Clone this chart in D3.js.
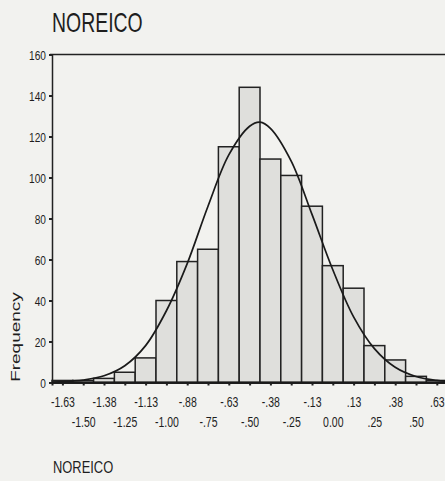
<!DOCTYPE html>
<html>
<head>
<meta charset="utf-8">
<script src="https://cdn.jsdelivr.net/npm/d3@7/dist/d3.min.js"></script>
<style>
  html, body { margin: 0; padding: 0; background: #f2f2ef; }
  svg { display: block; }
  text { font-family: "Liberation Sans", Arial, sans-serif; fill: #1e1e1e; }
</style>
</head>
<body>
<svg id="chart" width="445" height="481"></svg>
<script>
// ---- data ----
const chartTitle = "NOREICO";
const xTitle = "NOREICO";
const yTitle = "Frequency";
const binCenters = [-1.625, -1.5, -1.375, -1.25, -1.125, -1.0, -0.875, -0.75, -0.625, -0.5,
                    -0.375, -0.25, -0.125, 0.0, 0.125, 0.25, 0.375, 0.5, 0.625];
const tickLabels = ["-1.63", "-1.50", "-1.38", "-1.25", "-1.13", "-1.00", "-.88", "-.75", "-.63", "-.50",
                    "-.38", "-.25", "-.13", "0.00", ".13", ".25", ".38", ".50", ".63"];
const counts = [1, 1, 2, 5, 12, 40, 59, 65, 115, 144, 109, 101, 86, 57, 46, 18, 11, 3, 1];
const binWidth = 0.125;
const yTicks = [0, 20, 40, 60, 80, 100, 120, 140, 160];
// normal curve
const curveX = [-1.6875, -1.5625, -1.5, -1.375, -1.25, -1.125, -1.0, -0.875, -0.75, -0.625, -0.5,
                -0.4375, -0.375, -0.25, -0.125, 0.0, 0.125, 0.25, 0.375, 0.5, 0.625, 0.6875];
const curveY = [0.2, 0.7, 1.2, 3.3, 8.2, 18, 35, 58, 86, 111, 125,
                127, 124, 108, 82, 55, 32, 16.5, 7.4, 2.9, 1.0, 0.6];

// ---- layout ----
const SX = 0.72; // horizontal squeeze seen in the scanned text
const svg = d3.select("#chart");
const mLeft = 52, mRight = 447.2, mTop = 54.5, mBottom = 382.5;

const x = d3.scaleLinear().domain([-1.6875, 0.6875]).range([mLeft, mRight]);
const y = d3.scaleLinear().domain([0, 160]).range([mBottom, mTop]);

// title
svg.append("text")
  .attr("transform", `translate(52,31.5) scale(${SX},1)`)
  .style("font-size", "27px")
  .text(chartTitle);

// bars
svg.append("g").selectAll("rect")
  .data(binCenters.map((c, i) => ({c, n: counts[i]})))
  .join("rect")
  .attr("x", d => x(d.c - binWidth / 2))
  .attr("width", d => x(d.c + binWidth / 2) - x(d.c - binWidth / 2))
  .attr("y", d => y(d.n))
  .attr("height", d => y(0) - y(d.n))
  .attr("fill", "#dfdfdc")
  .attr("stroke", "#222")
  .attr("stroke-width", 1.5);

// frame top
svg.append("line")
  .attr("x1", mLeft - 2).attr("x2", 445).attr("y1", mTop).attr("y2", mTop)
  .attr("stroke", "#222").attr("stroke-width", 1.7);

// normal curve
const line = d3.line()
  .x((d, i) => x(curveX[i]))
  .y(d => y(d))
  .curve(d3.curveCatmullRom.alpha(0.5));
svg.append("path")
  .datum(curveY)
  .attr("d", line)
  .attr("fill", "none")
  .attr("stroke", "#1a1a1a")
  .attr("stroke-width", 1.7);

// y axis
const yAxis = svg.append("g")
  .attr("transform", `translate(${mLeft},0)`)
  .call(d3.axisLeft(y).tickValues(yTicks).tickSize(3).tickPadding(0).tickFormat(d3.format("d")));
yAxis.select(".domain").attr("stroke", "#222").attr("stroke-width", 1.5);
yAxis.selectAll(".tick line").attr("stroke", "#222").attr("stroke-width", 2);
yAxis.selectAll(".tick text")
  .attr("x", null).attr("dy", null)
  .attr("transform", `translate(-6,4.5) scale(0.78,1)`)
  .style("font-size", "13px")
  .attr("fill", "#1e1e1e");

// x axis
const xAxis = svg.append("g")
  .attr("transform", `translate(0,${mBottom})`)
  .call(d3.axisBottom(x).tickValues(binCenters).tickSize(3).tickPadding(0)
        .tickFormat((d, i) => tickLabels[i]));
xAxis.select(".domain").attr("stroke", "#222").attr("stroke-width", 2);
xAxis.selectAll(".tick line").attr("stroke", "#222").attr("stroke-width", 2);
xAxis.selectAll(".tick text")
  .attr("y", null).attr("dy", null)
  .attr("transform", (d, i) => `translate(0,${i % 2 === 0 ? 24.5 : 44}) scale(0.75,1)`)
  .style("font-size", "14px")
  .attr("fill", "#1e1e1e");
// thick baseline
svg.append("line")
  .attr("x1", mLeft).attr("x2", 445).attr("y1", mBottom).attr("y2", mBottom)
  .attr("stroke", "#1a1a1a").attr("stroke-width", 2.2);

// y title
svg.append("text")
  .attr("transform", `translate(20,337) scale(${SX},1) rotate(-90)`)
  .attr("text-anchor", "middle")
  .style("font-size", "19px")
  .text(yTitle);

// x title
svg.append("text")
  .attr("transform", `translate(53,473) scale(0.76,1)`)
  .style("font-size", "17px")
  .text(xTitle);
</script>
</body>
</html>
